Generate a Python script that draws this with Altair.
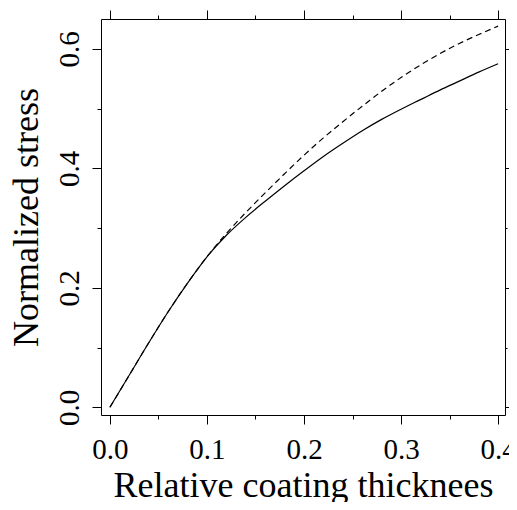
import altair as alt
import pandas as pd

# Relative coating thickness
x_vals = [0.00, 0.02, 0.04, 0.06, 0.08, 0.10, 0.12, 0.14, 0.16, 0.18, 0.20,
          0.22, 0.24, 0.26, 0.28, 0.30, 0.32, 0.34, 0.36, 0.38, 0.40]
# Normalized stress, solid curve
solid_vals = [0.000, 0.054, 0.108, 0.160, 0.208, 0.252, 0.288, 0.318, 0.345, 0.371, 0.396,
              0.420, 0.442, 0.463, 0.482, 0.499, 0.515, 0.531, 0.546, 0.561, 0.575]
# Normalized stress, dashed curve
dashed_vals = [0.000, 0.054, 0.108, 0.160, 0.208, 0.252, 0.291, 0.326, 0.359, 0.391, 0.422,
               0.451, 0.478, 0.504, 0.529, 0.552, 0.573, 0.592, 0.609, 0.624, 0.638]

x_ticks = [0.0, 0.05, 0.1, 0.15, 0.2, 0.25, 0.3, 0.35, 0.4]
y_ticks = [0.0, 0.1, 0.2, 0.3, 0.4, 0.5, 0.6]

df = pd.DataFrame({"x": x_vals, "solid": solid_vals, "dashed": dashed_vals})

FONT = "Liberation Serif"
xscale = alt.Scale(domain=[-0.0092, 0.4071], nice=False, zero=False)
yscale = alt.Scale(domain=[-0.0129, 0.650], nice=False, zero=False)

x_major = "round(datum.value*20) % 2 == 0"
y_major = "round(datum.value*10) % 2 == 0"


def ax(values, major, orient, labels, title=None, tick_major=9, tick_minor=4):
    kw = dict(
        orient=orient,
        values=values,
        domain=False,
        grid=False,
        ticks=True,
        tickColor="black",
        tickWidth=1,
        tickSize={"condition": {"test": major, "value": tick_major}, "value": tick_minor},
        labels=labels,
        title=title,
    )
    if labels:
        kw.update(
            labelExpr=f"{major} ? format(datum.value, '.1f') : ''",
            labelFont=FONT,
            labelFontSize=29,
            labelColor="black",
            titleFont=FONT,
            titleFontSize=36,
            titleFontWeight="normal",
            titleColor="black",
        )
    return alt.Axis(**kw)


bottom_axis = ax(x_ticks, x_major, "bottom", True, "Relative coating thicknees")
bottom_axis["labelPadding"] = 11
bottom_axis["titlePadding"] = 4
left_axis = ax(y_ticks, y_major, "left", True, "Normalized stress")
left_axis["labelAngle"] = 270
left_axis["labelAlign"] = "center"
left_axis["labelBaseline"] = "bottom"
left_axis["labelPadding"] = 8
left_axis["titlePadding"] = 10

top_axis = ax(x_ticks, x_major, "top", False)
right_axis = ax(y_ticks, y_major, "right", False, tick_major=4, tick_minor=2)

solid = alt.Chart(df).mark_line(color="black", strokeWidth=1.2, interpolate="monotone").encode(
    x=alt.X("x:Q", scale=xscale, axis=bottom_axis),
    y=alt.Y("solid:Q", scale=yscale, axis=left_axis),
)

dashed = alt.Chart(df).mark_line(color="black", strokeWidth=1.2, strokeDash=[6, 4],
                                 interpolate="monotone").encode(
    x=alt.X("x:Q", scale=xscale, axis=top_axis),
    y=alt.Y("dashed:Q", scale=yscale, axis=right_axis),
)

chart = (
    alt.layer(solid, dashed)
    .resolve_axis(x="independent", y="independent")
    .properties(
        width=404,
        height=396,
        autosize=alt.AutoSizeParams(type="none"),
        padding={"left": 93, "top": 11, "right": 4, "bottom": 87},
        background="white",
    )
    .configure_view(stroke="black", strokeWidth=1)
)

chart.save("out.html", embed_options={"renderer": "svg", "actions": False})
